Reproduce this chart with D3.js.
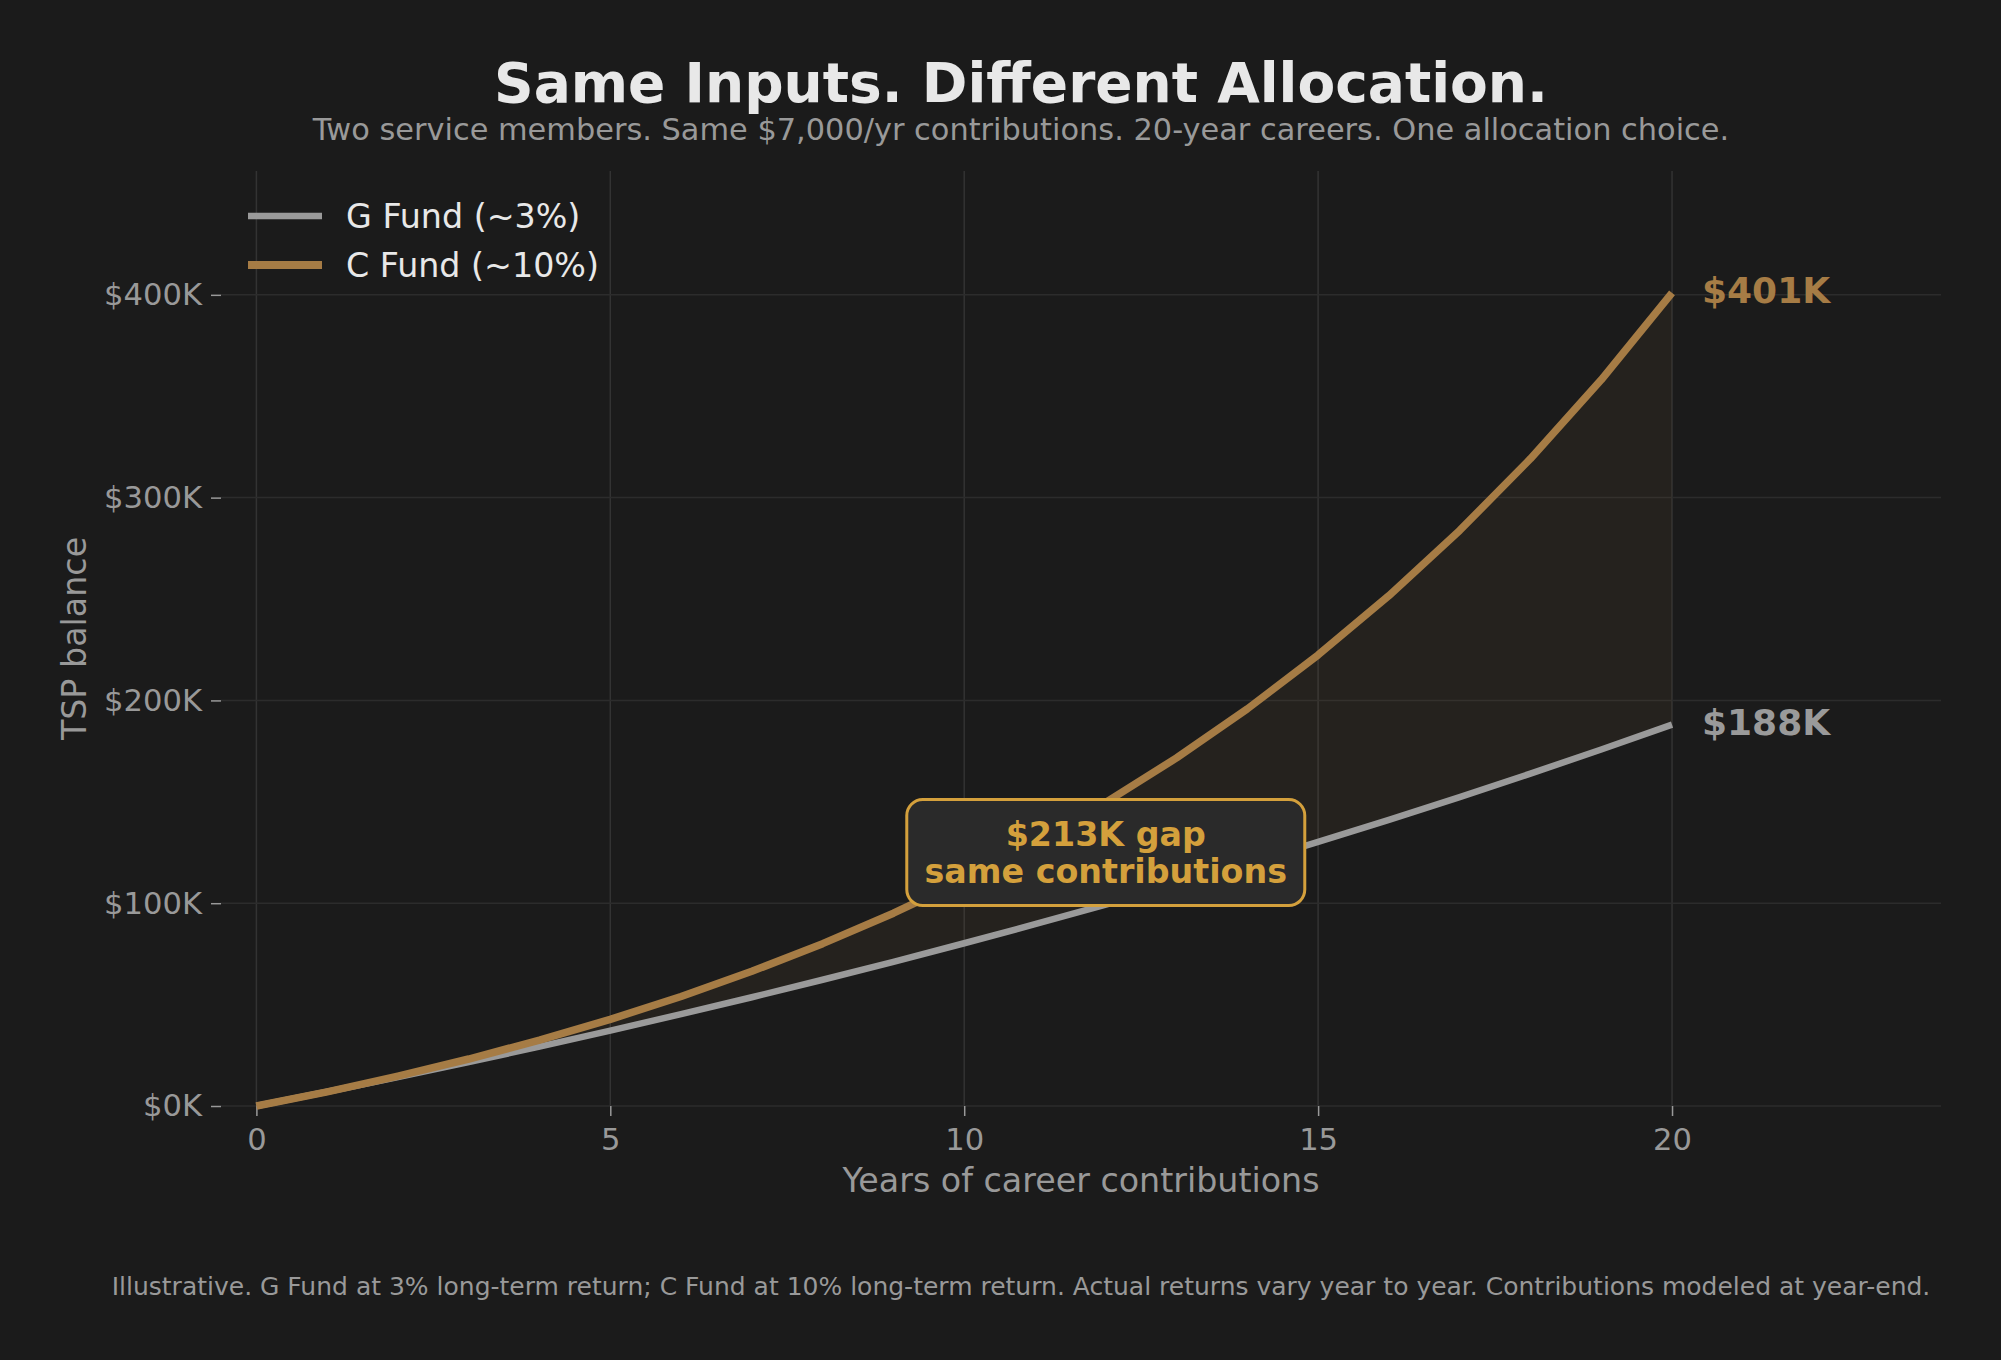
<!doctype html>
<html lang="en">

<head>
    <meta charset="utf-8">
    <style>
        body {
            margin: 0;
            background: #1b1b1b;
        }

        svg text {
            font-family: "DejaVu Sans", sans-serif;
        }

        .grid line {
            stroke: #333333;
            stroke-width: 1.5;
        }

        .axis text {
            fill: #999999;
            font-size: 30.6px;
        }

        .axis line {
            stroke: #999999;
            stroke-width: 1.5;
        }
    </style>

    <script src="https://d3js.org/d3.v7.min.js"></script>
</head>

<body>

    <svg width="2001" height="1360"></svg>

    <script>
        // years of career, balances at year-end (USD)
        const years = [0, 1, 2, 3, 4, 5, 6, 7, 8, 9, 10, 11, 12, 13, 14, 15, 16, 17, 18, 19, 20];
        const gFund = [0, 7000, 14210, 21636, 29285, 37164, 45279, 53638, 62246, 71114, 80247,
            89655, 99344, 109325, 119604, 130192, 141098, 152331, 163901, 175818, 188093];
        const cFund = [0, 7000, 14700, 23170, 32487, 42736, 54009, 66410, 80051, 95057, 111562,
            129718, 149690, 171659, 195825, 222407, 251648, 283813, 319194, 358114, 400925];

        const seriesNames = ["G Fund (~3%)", "C Fund (~10%)"];
        const xTicks = [0, 5, 10, 15, 20];
        const yTicks = [0, 100000, 200000, 300000, 400000];
        const endLabels = ["$188K", "$401K"];
        const gapLabel = ["$213K gap", "same contributions"];

        const gColor = "#9a9a9a";
        const cColor = "#a67c45";
        const gold = "#d4a03c";

        const margin = { top: 171, right: 60, bottom: 254, left: 221 };
        const width = 2001 - margin.left - margin.right;
        const height = 1360 - margin.top - margin.bottom;

        const data = years.map((y, i) => ({ year: y, g: gFund[i], c: cFund[i] }));

        const svg = d3.select("svg");

        const g = svg.append("g")
            .attr("transform", `translate(${margin.left}, ${margin.top})`);

        const x = d3.scaleLinear()
            .domain([-0.5, 23.8])
            .range([0, width]);

        const y = d3.scaleLinear()
            .domain([0, d3.max(cFund) * 1.15])
            .range([height, 0]);

        // grid
        g.append("g")
            .attr("class", "grid")
            .selectAll("line.v")
            .data(xTicks)
            .enter()
            .append("line")
            .attr("x1", d => x(d))
            .attr("x2", d => x(d))
            .attr("y1", 0)
            .attr("y2", height);

        g.append("g")
            .attr("class", "grid")
            .selectAll("line.h")
            .data(yTicks)
            .enter()
            .append("line")
            .attr("x1", 0)
            .attr("x2", width)
            .attr("y1", d => y(d))
            .attr("y2", d => y(d))
            .style("stroke", "#2c2c2c");

        // axes
        const xAxis = g.append("g")
            .attr("class", "axis")
            .attr("transform", `translate(0, ${height})`)
            .call(d3.axisBottom(x).tickValues(xTicks).tickSize(10).tickPadding(12));
        xAxis.select(".domain").remove();

        const yAxis = g.append("g")
            .attr("class", "axis")
            .call(d3.axisLeft(y).tickValues(yTicks).tickSize(10).tickPadding(9)
                .tickFormat(d => "$" + (d / 1000) + "K"));
        yAxis.select(".domain").remove();

        svg.append("text")
            .attr("x", margin.left + width / 2)
            .attr("y", 1192)
            .attr("text-anchor", "middle")
            .attr("fill", "#999999")
            .style("font-size", "33.3px")
            .text("Years of career contributions");

        svg.append("text")
            .attr("transform", `translate(86, ${margin.top + height / 2}) rotate(-90)`)
            .attr("text-anchor", "middle")
            .attr("fill", "#999999")
            .style("font-size", "33.3px")
            .text("TSP balance");

        // gap fill
        const area = d3.area()
            .x(d => x(d.year))
            .y0(d => y(d.g))
            .y1(d => y(d.c));

        g.append("path")
            .datum(data)
            .attr("d", area)
            .attr("fill", cColor)
            .attr("fill-opacity", 0.07);

        // lines
        const gLine = d3.line().x(d => x(d.year)).y(d => y(d.g));
        const cLine = d3.line().x(d => x(d.year)).y(d => y(d.c));

        g.append("path")
            .datum(data)
            .attr("d", gLine)
            .attr("fill", "none")
            .attr("stroke", gColor)
            .attr("stroke-width", 6.5)
            .attr("stroke-linejoin", "round");

        g.append("path")
            .datum(data)
            .attr("d", cLine)
            .attr("fill", "none")
            .attr("stroke", cColor)
            .attr("stroke-width", 7.5)
            .attr("stroke-linejoin", "round");

        // end labels
        const last = data[data.length - 1];
        g.append("text")
            .attr("x", x(last.year) + 30)
            .attr("y", y(last.g) - 2)
            .attr("dy", "0.35em")
            .attr("fill", gColor)
            .style("font-size", "36px")
            .style("font-weight", "bold")
            .text(endLabels[0]);

        g.append("text")
            .attr("x", x(last.year) + 30)
            .attr("y", y(last.c) - 3)
            .attr("dy", "0.35em")
            .attr("fill", cColor)
            .style("font-size", "36px")
            .style("font-weight", "bold")
            .text(endLabels[1]);

        // gap annotation
        const ann = g.append("g")
            .attr("transform", `translate(${x(12)}, ${y(125000)})`);

        ann.append("rect")
            .attr("x", -199)
            .attr("y", -53)
            .attr("width", 398)
            .attr("height", 106)
            .attr("rx", 16)
            .attr("fill", "#2a2a2a")
            .attr("stroke", gold)
            .attr("stroke-width", 3);

        ann.selectAll("text")
            .data(gapLabel)
            .enter()
            .append("text")
            .attr("x", 0)
            .attr("y", (d, i) => -18 + i * 37)
            .attr("dy", "0.35em")
            .attr("text-anchor", "middle")
            .attr("fill", gold)
            .style("font-size", "33.3px")
            .style("font-weight", "bold")
            .text(d => d);

        // legend
        const legend = svg.append("g");
        const legendItems = [
            { name: seriesNames[0], color: gColor, w: 6.5 },
            { name: seriesNames[1], color: cColor, w: 8 }
        ];
        legendItems.forEach((d, i) => {
            const ly = 216 + i * 49;
            legend.append("line")
                .attr("x1", 248)
                .attr("x2", 322)
                .attr("y1", ly)
                .attr("y2", ly)
                .attr("stroke", d.color)
                .attr("stroke-width", d.w);
            legend.append("text")
                .attr("x", 346)
                .attr("y", ly)
                .attr("dy", "0.35em")
                .attr("fill", "#e8e8e8")
                .style("font-size", "33.3px")
                .text(d.name);
        });

        // titles
        svg.append("text")
            .attr("x", 1021)
            .attr("y", 83)
            .attr("dy", "0.35em")
            .attr("text-anchor", "middle")
            .attr("fill", "#e8e8e8")
            .style("font-size", "55px")
            .style("font-weight", "bold")
            .text("Same Inputs. Different Allocation.");

        svg.append("text")
            .attr("x", 1021)
            .attr("y", 129)
            .attr("dy", "0.35em")
            .attr("text-anchor", "middle")
            .attr("fill", "#999999")
            .style("font-size", "30.4px")
            .text("Two service members. Same $7,000/yr contributions. 20-year careers. One allocation choice.");

        svg.append("text")
            .attr("x", 1021)
            .attr("y", 1286)
            .attr("dy", "0.35em")
            .attr("text-anchor", "middle")
            .attr("fill", "#999999")
            .style("font-size", "25px")
            .text("Illustrative. G Fund at 3% long-term return; C Fund at 10% long-term return. Actual returns vary year to year. Contributions modeled at year-end.");
    </script>
</body>
</html>
